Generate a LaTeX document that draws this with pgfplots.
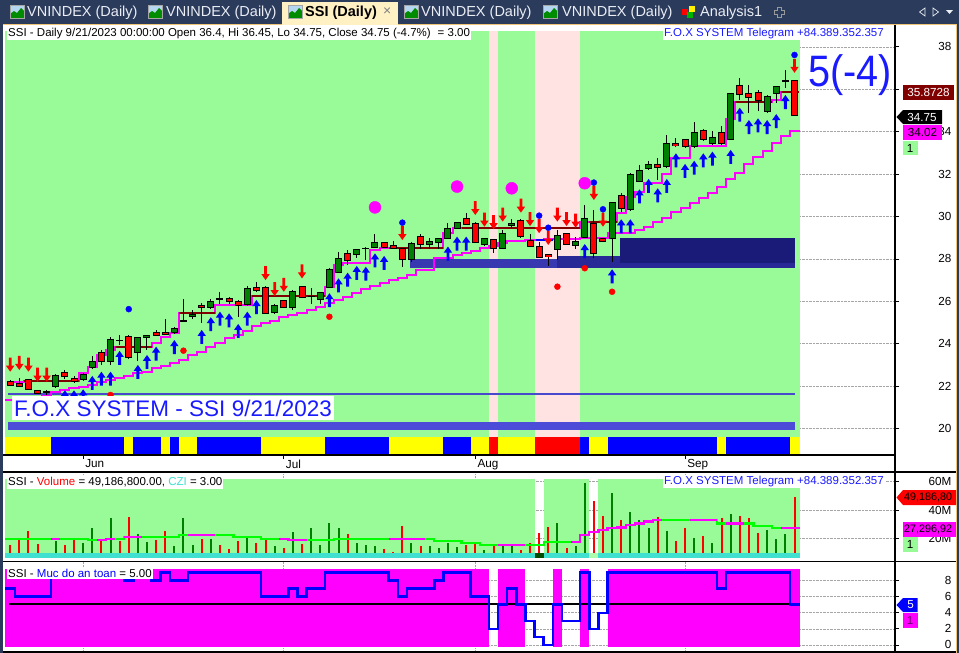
\documentclass[border=0pt]{standalone}
\usepackage{graphicx}
\usepackage{pgfplots}
\pgfplotsset{compat=1.18}
\usepackage{pgfplotstable}
\usepackage{fontspec}
\setmainfont{Liberation Sans}
\newcommand\fs[1]{\fontsize{#1}{#1}\selectfont}
\definecolor{bg}{RGB}{152,251,152}
\definecolor{pinkbg}{RGB}{255,226,226}
\definecolor{navyA}{RGB}{56,56,176}
\definecolor{navyB}{RGB}{40,40,150}
\definecolor{navyC}{RGB}{26,26,120}
\definecolor{lineblue}{RGB}{72,72,204}
\definecolor{bandblue}{RGB}{76,76,216}
\definecolor{maroonc}{RGB}{128,0,0}
\definecolor{cgreen}{RGB}{0,128,0}
\definecolor{vgreen}{RGB}{0,255,0}
\definecolor{czi}{RGB}{64,224,208}
\definecolor{frame}{RGB}{43,59,92}
\definecolor{tabact}{RGB}{255,241,196}
\definecolor{orangeb}{RGB}{240,196,120}
\definecolor{txtblue}{RGB}{26,26,255}
\definecolor{sky}{RGB}{180,214,240}
\definecolor{tabtxt}{RGB}{235,238,245}
\definecolor{darkmag}{RGB}{110,0,110}
\definecolor{mag}{RGB}{255,0,255}
\definecolor{yel}{RGB}{255,255,0}
\definecolor{blu}{RGB}{0,0,255}
\definecolor{rd}{RGB}{255,0,0}

\pgfdeclareplotmark{uarr}{%
 \pgfpathmoveto{\pgfqpoint{0pt}{0pt}}%
 \pgfpathlineto{\pgfqpoint{4.2pt}{-6pt}}%
 \pgfpathlineto{\pgfqpoint{1.4pt}{-6pt}}%
 \pgfpathlineto{\pgfqpoint{1.4pt}{-14pt}}%
 \pgfpathlineto{\pgfqpoint{-1.4pt}{-14pt}}%
 \pgfpathlineto{\pgfqpoint{-1.4pt}{-6pt}}%
 \pgfpathlineto{\pgfqpoint{-4.2pt}{-6pt}}%
 \pgfpathclose\pgfusepath{fill}}
\pgfdeclareplotmark{darr}{%
 \pgfpathmoveto{\pgfqpoint{0pt}{0pt}}%
 \pgfpathlineto{\pgfqpoint{4.2pt}{6pt}}%
 \pgfpathlineto{\pgfqpoint{1.4pt}{6pt}}%
 \pgfpathlineto{\pgfqpoint{1.4pt}{14pt}}%
 \pgfpathlineto{\pgfqpoint{-1.4pt}{14pt}}%
 \pgfpathlineto{\pgfqpoint{-1.4pt}{6pt}}%
 \pgfpathlineto{\pgfqpoint{-4.2pt}{6pt}}%
 \pgfpathclose\pgfusepath{fill}}

\pgfplotstableread{
i o h l c vol vc
0 22.24 22.30 22.00 22.05 15.6 0
1 22.13 22.37 21.95 21.97 20.3 0
2 22.29 22.32 21.80 21.82 25.6 0
3 21.78 21.82 21.62 21.66 16.3 0
4 21.74 21.82 21.60 21.74 8.6 0
5 21.97 22.55 21.90 22.52 18.4 1
6 22.63 22.76 22.35 22.44 15.6 0
7 22.37 22.50 22.15 22.24 19.1 0
8 22.29 22.62 22.25 22.57 16.8 1
9 22.87 23.42 22.85 23.18 27.2 1
10 23.58 23.70 23.00 23.15 19.6 0
11 23.15 24.33 23.00 24.22 34.2 1
12 24.17 24.40 23.95 24.17 18.4 0
13 24.36 24.40 23.30 23.34 34.9 0
14 23.58 24.33 23.20 24.30 23.3 1
15 24.28 24.43 23.70 24.41 17.9 1
16 24.54 24.66 24.35 24.38 19.1 0
17 24.54 25.17 24.42 24.44 25.6 0
18 24.52 24.80 24.50 24.73 14.9 1
19 25.09 26.11 25.05 25.09 34.2 1
20 25.27 25.60 25.15 25.40 15.6 1
21 25.82 25.93 24.99 25.72 19.6 0
22 25.70 26.13 25.65 26.01 19.6 1
23 26.12 26.42 25.85 26.12 15.6 0
24 26.11 26.22 25.85 25.98 12.8 0
25 26.00 26.05 25.27 25.81 18.4 0
26 25.86 26.72 25.80 26.61 21.4 1
27 26.63 26.89 26.45 26.50 16.9 0
28 26.66 26.70 25.40 25.43 20.3 0
29 25.46 25.85 25.40 25.82 14.9 1
30 26.05 26.08 25.70 25.72 13.3 0
31 25.72 26.52 25.60 26.48 24.7 1
32 26.71 26.74 26.15 26.19 16.3 0
33 26.25 26.64 25.85 26.25 27.2 1
34 26.09 26.46 25.85 26.42 15.6 1
35 26.66 27.58 26.62 27.52 30.7 1
36 27.37 28.31 27.33 28.03 27.2 1
37 28.27 28.44 27.72 27.92 23.1 0
38 28.22 28.46 28.05 28.42 16.8 1
39 28.51 28.54 27.95 28.51 15.6 1
40 28.55 29.17 28.52 28.78 14.9 1
41 28.78 28.82 28.50 28.53 12.8 0
42 28.61 28.83 28.47 28.50 10.5 0
43 28.50 28.53 27.63 27.98 28.9 0
44 27.95 28.78 27.87 28.74 16.8 1
45 29.07 29.18 28.45 28.69 14.9 0
46 28.69 29.00 28.45 28.80 14.9 1
47 28.78 29.00 28.45 28.97 13.3 1
48 28.97 29.68 28.94 29.44 16.8 1
49 29.44 29.76 29.40 29.73 14.2 1
50 29.92 30.15 29.60 29.63 15.6 0
51 29.68 29.72 28.75 28.78 16.8 0
52 28.67 29.00 28.63 28.97 12.1 1
53 28.92 28.95 28.30 28.50 15.6 0
54 28.50 29.38 28.46 29.21 15.6 1
55 29.57 29.88 29.45 29.68 15.6 1
56 29.82 29.86 29.00 29.05 12.1 0
57 28.89 29.16 28.55 28.59 16.8 0
58 28.59 28.81 28.03 28.07 23.8 0
59 28.21 28.24 27.68 28.10 27.9 0
60 28.45 29.34 27.97 29.12 30.7 1
61 29.21 29.24 28.65 28.69 13.3 0
62 28.64 29.05 28.45 28.83 14.9 1
63 29.02 30.54 28.98 29.92 58.6 1
64 29.68 30.33 28.02 28.26 46.3 0
65 28.97 29.00 28.78 28.81 35.8 0
66 28.97 30.70 27.87 30.65 52.1 1
67 31.01 31.11 30.20 30.39 33.0 0
68 30.31 32.03 30.27 31.99 38.8 1
69 31.67 32.43 31.63 32.19 33.0 1
70 32.27 32.62 32.20 32.43 27.7 1
71 32.46 32.78 31.72 32.30 34.9 0
72 32.35 33.84 32.30 33.45 25.4 1
73 33.45 33.70 33.30 33.34 18.4 0
74 33.61 33.64 33.25 33.29 27.7 0
75 33.29 34.47 33.25 33.97 20.7 1
76 34.08 34.12 33.56 33.64 21.9 0
77 33.42 34.04 33.38 33.74 17.2 1
78 33.97 34.28 33.38 33.42 34.6 0
79 33.64 35.82 33.60 35.78 37.2 1
80 36.16 36.55 35.50 35.76 35.8 0
81 35.78 36.20 34.90 35.62 34.6 0
82 35.86 35.97 34.99 35.46 23.8 0
83 34.94 35.72 34.90 35.68 26.1 1
84 35.78 36.16 35.34 36.12 19.8 1
85 36.40 36.91 36.05 36.40 23.3 1
86 36.40 36.45 34.75 34.75 49.3 0
}\candles

\pgfplotstableread{
i v
6 21.80
7 21.80
8 21.85
9 22.48
10 22.68
11 22.68
12 23.66
14 23.00
15 23.47
16 23.86
18 24.17
21 24.65
22 25.25
23 25.51
24 25.43
25 24.93
26 25.51
27 26.06
35 26.38
36 27.08
37 27.35
38 27.67
39 27.63
40 28.26
41 28.14
48 28.58
49 29.05
50 29.05
63 28.70
66 27.51
67 29.87
68 29.87
69 31.28
70 31.77
71 31.33
72 31.77
73 32.98
74 32.48
75 32.63
76 32.98
77 33.06
79 33.14
80 35.13
81 34.55
82 34.63
83 34.55
84 34.83
85 35.73
}\buys

\pgfplotstableread{
i v
0 22.68
1 22.76
2 22.68
3 22.21
4 22.21
28 27.00
29 26.25
30 26.45
32 27.08
43 28.89
51 30.07
52 29.52
53 29.40
54 29.76
56 30.18
57 29.55
58 29.21
59 28.66
60 29.76
61 29.55
62 29.47
64 30.78
65 29.52
86 36.78
}\sells

\begin{document}
\begin{tikzpicture}
%---------------- background / window chrome
\begin{scope}[x=1pt,y=-1pt]
\fill[frame] (0,0) rectangle (959,653);
\fill[white] (3,25) rectangle (956,653);
\draw[orangeb, line width=1pt] (3,24.5) -- (956.5,24.5) -- (956.5,653);
\fill[tabact] (282,2) rectangle (398,25);
\foreach \xx in {10,148,288,404,543}{
  \fill[sky] (\xx,5) rectangle ++(14,13);
  \fill[green!55!black] (\xx,18) -- ++(0,-4) -- ++(4,-3) -- ++(3,2) -- ++(4,-5) -- ++(3,3) -- ++(0,7) -- cycle;
  \draw[gray!70, line width=0.6pt] (\xx,5) rectangle ++(14,13);
}
\node[anchor=west, inner sep=0pt, text=tabtxt, font=\fs{14.5}] at (27,12.5) {VNINDEX (Daily)};
\node[anchor=west, inner sep=0pt, text=tabtxt, font=\fs{14.5}] at (166,12.5) {VNINDEX (Daily)};
\node[anchor=west, inner sep=0pt, text=black, font=\fs{14.5}\bfseries] at (305,12.5) {SSI (Daily)};
\node[anchor=west, inner sep=0pt, text=gray, font=\fs{14}] at (383,12) {×};
\node[anchor=west, inner sep=0pt, text=tabtxt, font=\fs{14.5}] at (421,12.5) {VNINDEX (Daily)};
\node[anchor=west, inner sep=0pt, text=tabtxt, font=\fs{14.5}] at (562,12.5) {VNINDEX (Daily)};
\fill[rd] (682,9) rectangle (688,15);
\fill[green!70!black] (687,12) rectangle (693,18);
\fill[yel!90!orange] (689,6) rectangle (695,12);
\node[anchor=west, inner sep=0pt, text=tabtxt, font=\fs{14.5}] at (700,12.5) {Analysis1};
\draw[gray!80, line width=0.8pt] (777,7) -- (781,7) -- (781,10) -- (784,10) -- (784,14) -- (781,14) -- (781,17) -- (777,17) -- (777,14) -- (774,14) -- (774,10) -- (777,10) -- cycle;
\draw[tabtxt, line width=0.7pt] (925,8) -- (919.5,12) -- (925,16) -- cycle;
\draw[tabtxt, line width=0.7pt] (933,8) -- (938.5,12) -- (933,16) -- cycle;
\fill[tabtxt] (946,10) -- (953,10) -- (949.5,14) -- cycle;
\end{scope}

%---------------- main price panel
\begin{axis}[at={(5pt,-455pt)}, anchor=south west, scale only axis,
  width=890pt, height=431pt,
  xmin=-0.57, xmax=97.02, ymin=18.75, ymax=39.08,
  axis line style={draw=none},
  ytick={20,22,24,26,28,30,32,34,36,38},
  yticklabels={20,22,24,26,28,30,32,34,{},38},
  ytick pos=right, yticklabel pos=right,
  tick align=outside, major tick length=4pt,
  tick style={black, line width=0.8pt},
  yticklabel style={font=\fs{11.7}, anchor=east, inner sep=0pt, xshift=52.5pt},
  xtick={8,30,51,74}, xticklabels={Jun,Jul,Aug,Sep}, xtick pos=bottom,
  xticklabel style={font=\fs{11.7}, anchor=north west, inner sep=0pt, xshift=2pt, yshift=-0.5pt},
  ymajorgrids, grid style={densely dotted, black!35, line width=0.7pt},
]
\fill[bg] (axis cs:-0.57,19.6) rectangle (axis cs:86.6,38.75);
\fill[pinkbg] (axis cs:52.5,19.6) rectangle (axis cs:53.5,38.75);
\fill[pinkbg] (axis cs:57.5,19.6) rectangle (axis cs:62.5,38.75);
% status strip
\fill[yel] (axis cs:-0.6,18.7) rectangle (axis cs:4.5,19.6);
\fill[blu] (axis cs:4.5,18.7) rectangle (axis cs:12.5,19.6);
\fill[yel] (axis cs:12.5,18.7) rectangle (axis cs:13.5,19.6);
\fill[blu] (axis cs:13.5,18.7) rectangle (axis cs:16.5,19.6);
\fill[yel] (axis cs:16.5,18.7) rectangle (axis cs:17.5,19.6);
\fill[blu] (axis cs:17.5,18.7) rectangle (axis cs:18.5,19.6);
\fill[yel] (axis cs:18.5,18.7) rectangle (axis cs:20.5,19.6);
\fill[blu] (axis cs:20.5,18.7) rectangle (axis cs:27.5,19.6);
\fill[yel] (axis cs:27.5,18.7) rectangle (axis cs:34.5,19.6);
\fill[blu] (axis cs:34.5,18.7) rectangle (axis cs:41.5,19.6);
\fill[yel] (axis cs:41.5,18.7) rectangle (axis cs:47.5,19.6);
\fill[blu] (axis cs:47.5,18.7) rectangle (axis cs:50.5,19.6);
\fill[yel] (axis cs:50.5,18.7) rectangle (axis cs:52.5,19.6);
\fill[rd] (axis cs:52.5,18.7) rectangle (axis cs:53.5,19.6);
\fill[yel] (axis cs:53.5,18.7) rectangle (axis cs:57.5,19.6);
\fill[rd] (axis cs:57.5,18.7) rectangle (axis cs:62.5,19.6);
\fill[blu] (axis cs:62.5,18.7) rectangle (axis cs:63.5,19.6);
\fill[yel] (axis cs:63.5,18.7) rectangle (axis cs:65.5,19.6);
\fill[blu] (axis cs:65.5,18.7) rectangle (axis cs:77.5,19.6);
\fill[yel] (axis cs:77.5,18.7) rectangle (axis cs:78.5,19.6);
\fill[blu] (axis cs:78.5,18.7) rectangle (axis cs:85.5,19.6);
\fill[yel] (axis cs:85.5,18.7) rectangle (axis cs:86.6,19.6);
% red dots
\addplot[only marks, mark=*, mark size=3pt, rd] coordinates {(11,21.58) (19,23.67) (35,25.27) (60,26.69) (63,27.56) (66,26.45)};
% zones
\fill[navyA] (axis cs:43.8,27.58) rectangle (axis cs:86.05,28.0);
\fill[navyB] (axis cs:60.0,27.58) rectangle (axis cs:86.05,28.14);
\fill[navyC] (axis cs:66.9,27.82) rectangle (axis cs:86.05,28.99);
\draw[lineblue, line width=2pt] (axis cs:-0.24,21.65) -- (axis cs:86.05,21.65);
\fill[bandblue] (axis cs:-0.24,19.93) rectangle (axis cs:86.05,20.32);
% lower trailing line
\addplot[mag, line width=2pt, const plot mark mid] coordinates {(-0.57,21.34) (0,21.34) (1,21.34) (2,21.40) (3,21.45) (4,21.55) (5,21.74) (6,21.80) (7,21.90) (8,21.95) (9,22.05) (10,22.21) (11,22.30) (12,22.37) (13,22.50) (14,22.60) (15,22.68) (16,22.85) (17,22.95) (18,23.10) (19,23.22) (20,23.45) (21,23.62) (22,23.85) (23,24.05) (24,24.25) (25,24.40) (26,24.61) (27,24.85) (28,24.97) (29,25.09) (30,25.25) (31,25.37) (32,25.47) (33,25.59) (34,25.75) (35,25.91) (36,26.05) (37,26.22) (38,26.40) (39,26.56) (40,26.74) (41,26.88) (42,27.00) (43,27.10) (44,27.23) (45,27.48) (46,27.48) (47,28.03) (48,28.03) (49,28.18) (50,28.26) (51,28.38) (52,28.50) (53,28.62) (54,28.74) (55,28.84) (56,28.84) (57,28.88) (58,28.88) (59,28.92) (60,28.92) (61,28.92) (62,28.92) (63,28.97) (64,28.97) (65,28.97) (66,29.21) (67,29.21) (68,29.21) (69,29.37) (70,29.52) (71,29.72) (72,29.92) (73,30.20) (74,30.39) (75,30.62) (76,30.86) (77,31.10) (78,31.41) (79,31.76) (80,32.07) (81,32.48) (82,32.79) (83,33.10) (84,33.45) (85,33.82) (86,34.02) (86.6,34.02)};
\addplot[blu, line width=2pt] coordinates {(57.6,28.88) (59.5,28.88)};
% upper trailing line
\addplot[mag, line width=2pt, const plot mark mid] coordinates {(-0.4,22.21) (0,22.21) (1,22.21) (2,22.25) (3,22.25) (4,22.25) (5,22.25) (6,22.25) (7,22.25) (8,22.62) (9,22.92) (10,23.47) (11,23.70) (12,23.86) (13,23.86) (14,23.86) (15,23.86) (16,24.02) (17,24.30) (18,24.49) (19,25.46) (20,25.46) (21,25.46) (22,25.46) (23,25.82) (24,25.82) (25,25.82) (26,25.82) (27,26.25) (28,26.25) (29,26.25) (30,26.25) (31,26.25) (32,26.25) (33,26.25) (34,26.25) (35,26.69) (36,27.71) (37,27.82) (38,27.82) (39,27.82) (40,28.42) (41,28.53) (42,28.53) (43,28.53) (44,28.53) (45,28.53) (46,28.53) (47,28.53) (48,29.21) (49,29.44) (50,29.47) (51,29.47) (52,29.47) (53,29.47) (54,29.47) (55,29.47) (56,29.47) (57,29.47) (58,29.47) (59,29.47) (60,29.47) (61,29.47) (62,29.47) (63,29.72) (64,29.76) (65,29.76) (66,29.76) (67,30.15) (68,30.93) (69,31.17) (70,31.57) (71,31.57) (72,32.00) (73,32.75) (74,32.75) (75,33.33) (76,33.33) (77,33.33) (78,33.33) (79,34.60) (80,35.42) (81,35.42) (82,35.42) (83,35.42) (84,35.50) (85,35.87) (86,35.87) (86.5,35.87)};
\addplot[maroonc, line width=2pt] coordinates {(1.5,22.25) (7.5,22.25)};
\addplot[maroonc, line width=2pt] coordinates {(11.5,23.86) (15.5,23.86)};
\addplot[maroonc, line width=2pt] coordinates {(18.5,25.46) (22.5,25.46)};
\addplot[maroonc, line width=2pt] coordinates {(26.5,26.25) (34.5,26.25)};
\addplot[maroonc, line width=2pt] coordinates {(41.5,28.53) (47.5,28.53)};
\addplot[maroonc, line width=2pt] coordinates {(49.5,29.47) (62.5,29.47)};
\addplot[maroonc, line width=2pt] coordinates {(63.5,29.76) (66.5,29.76)};
\addplot[maroonc, line width=2pt] coordinates {(79.5,35.42) (83.5,35.42)};
\addplot[maroonc, line width=2pt] coordinates {(84.5,35.87) (86.5,35.87)};
% candles: wicks
\addplot[draw=none, mark=none, error bars/.cd, y dir=both, y explicit, error mark=none,
  error bar style={draw=black, line width=1pt}]
  table[x=i, y=o, y error plus expr={\thisrow{h}-\thisrow{o}}, y error minus expr={\thisrow{o}-\thisrow{l}}] {\candles};
% bodies outline
\addplot[draw=none, mark=none, error bars/.cd, y dir=both, y explicit, error mark=none,
  error bar style={draw=black, line width=7pt}]
  table[x=i, y expr={(\thisrow{o}+\thisrow{c})/2}, y error expr={abs(\thisrow{c}-\thisrow{o})/2+0.0236}] {\candles};
% bodies fill
\addplot[draw=none, mark=none, restrict expr to domain={\thisrow{c}-\thisrow{o}}{0.01:100},
  error bars/.cd, y dir=both, y explicit, error mark=none,
  error bar style={draw=cgreen, line width=5pt}]
  table[x=i, y expr={(\thisrow{o}+\thisrow{c})/2}, y error expr={abs(\thisrow{c}-\thisrow{o})/2-0.0236}] {\candles};
\addplot[draw=none, mark=none, restrict expr to domain={\thisrow{c}-\thisrow{o}}{-100:-0.01},
  error bars/.cd, y dir=both, y explicit, error mark=none,
  error bar style={draw=rd, line width=5pt}]
  table[x=i, y expr={(\thisrow{o}+\thisrow{c})/2}, y error expr={abs(\thisrow{c}-\thisrow{o})/2-0.0236}] {\candles};
% signals
\addplot[only marks, mark=uarr, blu] table[x=i, y=v] {\buys};
\addplot[only marks, mark=darr, rd] table[x=i, y=v] {\sells};
\addplot[only marks, mark=*, mark size=3pt, blu] coordinates {(13,25.63) (43,29.71) (58,30.04) (59,29.47) (64,31.6) (65,30.34) (86,37.62)};
\addplot[only marks, mark=*, mark size=6pt, mag, mark options={draw=none}] coordinates {(40,30.43) (49,31.41) (55,31.33) (63,31.57)};
\end{axis}

%---------------- volume panel
\begin{axis}[at={(5pt,-558pt)}, anchor=south west, scale only axis,
  width=890pt, height=86pt,
  xmin=-0.57, xmax=97.02, ymin=6.55, ymax=66.48,
  axis line style={draw=none},
  ytick={20,40,60}, yticklabels={20M,40M,60M},
  ytick pos=right, yticklabel pos=right,
  tick align=outside, major tick length=4pt,
  tick style={black, line width=0.8pt},
  yticklabel style={font=\fs{11.7}, anchor=east, inner sep=0pt, xshift=52.5pt},
  xtick=\empty,
  ymajorgrids, grid style={densely dotted, black!35, line width=0.7pt},
]
\draw[densely dotted, black!35, line width=0.7pt] (axis cs:8,6.55) -- (axis cs:8,66.48);
\draw[densely dotted, black!35, line width=0.7pt] (axis cs:30,6.55) -- (axis cs:30,66.48);
\draw[densely dotted, black!35, line width=0.7pt] (axis cs:51,6.55) -- (axis cs:51,66.48);
\draw[densely dotted, black!35, line width=0.7pt] (axis cs:74,6.55) -- (axis cs:74,66.48);
\fill[bg] (axis cs:-0.57,10.03) rectangle (axis cs:57.5,61.6);
\fill[bg] (axis cs:58.5,10.03) rectangle (axis cs:63.5,61.6);
\fill[bg] (axis cs:64.5,10.03) rectangle (axis cs:86.6,61.6);
\addplot[ycomb, cgreen, line width=2pt, mark=none, restrict expr to domain={\thisrow{vc}}{0.5:1.5}] table[x=i, y=vol] {\candles};
\addplot[ycomb, rd, line width=2pt, mark=none, restrict expr to domain={\thisrow{vc}}{-0.5:0.5}] table[x=i, y=vol] {\candles};
\addplot[vgreen, line width=2.3pt, const plot mark mid] coordinates {(-0.57,19.6) (0,19.6) (3,19.6) (4,20.0) (8,20.0) (9,19.1) (10,19.1) (11,20.0) (12,20.0) (13,21.0) (14,21.0) (15,21.4) (18,21.4) (19,22.6) (24,22.6) (25,21.4) (27,21.4) (28,19.8) (30,19.8) (31,19.1) (35,19.1) (36,19.8) (41,19.8) (42,19.6) (46,19.6) (47,18.4) (49,18.4) (50,16.8) (51,16.8) (52,15.6) (58,15.6) (59,17.9) (62,17.9) (63,22.6) (64,24.9) (65,26.0) (66,27.3) (67,27.9) (68,29.5) (69,30.7) (70,31.9) (71,33.0) (77,33.0) (78,30.7) (81,30.7) (82,28.9) (83,28.9) (84,27.3) (86,27.3) (86.6,27.3)};
\addplot[mag, line width=2.3pt, const plot] coordinates {(4.5,20.0) (5.5,20.0)};
\addplot[mag, line width=2.3pt, const plot] coordinates {(9.5,19.1) (10.5,20.0) (11.5,20.0)};
\addplot[mag, line width=2.3pt, const plot] coordinates {(12.5,21.0) (14.5,21.0)};
\addplot[mag, line width=2.3pt, const plot] coordinates {(19.5,22.6) (22.5,22.6)};
\addplot[mag, line width=2.3pt, const plot] coordinates {(29.5,19.8) (30.5,19.1) (32.5,19.1)};
\addplot[mag, line width=2.3pt, const plot] coordinates {(41.5,19.6) (45.5,19.6)};
\addplot[mag, line width=2.3pt, const plot] coordinates {(53.5,15.6) (56.5,15.6)};
\addplot[mag, line width=2.3pt, const plot] coordinates {(61.5,17.9) (62.5,22.6) (63.5,24.9) (64.5,26.0) (65.5,27.3) (66.5,27.9) (67.5,29.5) (68.5,30.7) (69.5,31.9) (70.5,33.0) (71.5,33.0)};
\addplot[mag, line width=2.3pt, const plot] coordinates {(74.5,33.0) (77.5,33.0)};
\addplot[mag, line width=2.3pt, const plot] coordinates {(78.5,30.7) (80.5,30.7)};
\addplot[mag, line width=2.3pt, const plot] coordinates {(84.5,27.3) (86.6,27.3)};
\fill[czi] (axis cs:-0.57,6.9) rectangle (axis cs:86.6,10.03);
\fill[green!30!black] (axis cs:57.5,6.9) rectangle (axis cs:58.5,10.03);
\fill[bg!80!white] (axis cs:63.5,6.9) rectangle (axis cs:64.5,10.03);
\end{axis}

%---------------- safety level panel
\begin{axis}[at={(5pt,-652pt)}, anchor=south west, scale only axis,
  width=890pt, height=90.5pt,
  xmin=-0.57, xmax=97.02, ymin=-0.875, ymax=10.375,
  axis line style={draw=none},
  ytick={0,2,4,6,8}, yticklabels={0,2,4,6,8},
  ytick pos=right, yticklabel pos=right,
  tick align=outside, major tick length=4pt,
  tick style={black, line width=0.8pt},
  yticklabel style={font=\fs{11.7}, anchor=east, inner sep=0pt, xshift=52.5pt},
  xtick=\empty,
  ymajorgrids, grid style={densely dotted, black!35, line width=0.7pt},
]
\draw[densely dotted, black!35, line width=0.7pt] (axis cs:8,-0.875) -- (axis cs:8,10.375);
\draw[densely dotted, black!35, line width=0.7pt] (axis cs:30,-0.875) -- (axis cs:30,10.375);
\draw[densely dotted, black!35, line width=0.7pt] (axis cs:51,-0.875) -- (axis cs:51,10.375);
\draw[densely dotted, black!35, line width=0.7pt] (axis cs:74,-0.875) -- (axis cs:74,10.375);
\fill[mag] (axis cs:-0.57,-0.21) rectangle (axis cs:52.5,9.5);
\fill[mag] (axis cs:53.5,-0.21) rectangle (axis cs:56.5,9.5);
\fill[mag] (axis cs:59.5,-0.21) rectangle (axis cs:60.5,9.5);
\fill[mag] (axis cs:62.5,-0.21) rectangle (axis cs:63.5,9.5);
\fill[mag] (axis cs:65.5,-0.21) rectangle (axis cs:86.6,9.5);
\draw[black, line width=2pt] (axis cs:-0.13,5.09) -- (axis cs:86.6,5.09);
\addplot[blu, line width=2.5pt, const plot] coordinates {(-0.57,7) (0.5,6) (4.5,9) (12.5,8) (13.5,9) (15.5,8) (16.5,9) (17.5,8) (19.5,9) (27.5,6) (30.5,7) (31.5,6) (32.5,7) (34.5,9) (41.5,8) (42.5,6) (43.5,7) (46.5,8) (47.5,9) (50.5,6) (52.5,2) (53.5,5) (54.5,7) (55.5,5) (56.5,3) (57.5,1) (58.5,0) (59.5,5) (60.5,3) (62.5,9) (63.5,2) (64.5,4) (65.5,9) (77.5,7) (78.5,9) (85.5,5) (86.6,5)};
\end{axis}

%---------------- overlays: frame lines, texts, value boxes
\begin{scope}[x=1pt,y=-1pt]
\draw[black, line width=1.2pt] (895,24.5) -- (895,652);
\draw[black, line width=1.2pt] (3,455) -- (895,455);
\draw[black, line width=1.2pt] (3,472) -- (956,472);
\draw[black, line width=1.2pt] (3,561.5) -- (956,561.5);
\draw[black, line width=1.2pt] (3,652) -- (956,652);
% headers
\node[anchor=west, fill=white, inner xsep=1pt, inner ysep=1.5pt, font=\fs{11.5}] at (7,33.5)
  {SSI - Daily 9/21/2023 00:00:00 Open 36.4, Hi 36.45, Lo 34.75, Close 34.75 (-4.7\%)\hspace{7pt}= 3.00};
\node[anchor=east, fill=white, inner xsep=1pt, inner ysep=1.5pt, text=txtblue, font=\fs{11.5}] at (885,33.5)
  {F.O.X SYSTEM Telegram +84.389.352.357};
\node[anchor=base west, inner sep=0pt, text=txtblue, font=\fs{44}] at (808,86.5) {\scalebox{0.9}[1]{5(-4)}};
\node[anchor=west, fill=white, inner xsep=2pt, inner ysep=0pt, minimum height=24pt, text=txtblue, font=\fs{22.5}] at (12,408)
  {F.O.X SYSTEM - SSI 9/21/2023};
\node[anchor=west, fill=white, inner xsep=1pt, inner ysep=1.5pt, font=\fs{11.5}] at (7,482.5)
  {SSI - \textcolor{rd}{Volume} = 49,186,800.00, \textcolor{czi}{CZI} = 3.00};
\node[anchor=east, fill=white, inner xsep=1pt, inner ysep=1.5pt, text=txtblue, font=\fs{11.5}] at (885,481.5)
  {F.O.X SYSTEM Telegram +84.389.352.357};
\node[anchor=west, fill=white, inner xsep=1pt, inner ysep=1.5pt, font=\fs{11.5}] at (7,573.5)
  {SSI - \textcolor{blu}{Muc do an toan} = 5.00};
% value boxes main
\fill[maroonc] (903,85) rectangle (954,100);
\node[text=white, font=\fs{11.7}, inner sep=0pt] at (928.5,92.5) {35.8728};
\fill[black] (896.5,117) -- (903,110) -- (942,110) -- (942,124) -- (903,124) -- cycle;
\node[text=white, font=\fs{11.7}, inner sep=0pt] at (922,117) {34.75};
\fill[mag] (903,125) rectangle (942,139.5);
\node[text=black, font=\fs{11.7}, inner sep=0pt] at (922.5,132.3) {34.02};
\fill[bg] (903,141) rectangle (917.5,155);
\node[text=black, font=\fs{11.7}, inner sep=0pt] at (910.2,148) {1};
% value boxes volume
\fill[rd] (896.5,497.5) -- (903,490) -- (956,490) -- (956,505) -- (903,505) -- cycle;
\node[anchor=west, text=black, font=\fs{10.8}, inner sep=0pt] at (904,497.5) {49,186,80};
\fill[mag] (903,522) rectangle (956,536.5);
\node[anchor=west, text=black, font=\fs{10.8}, inner sep=0pt] at (904,529.3) {27,296,92};
\fill[bg] (903,537) rectangle (917.5,551.5);
\node[text=black, font=\fs{11.7}, inner sep=0pt] at (910.2,544.3) {1};
% value boxes safety
\fill[blu] (896.5,605) -- (903,598) -- (917.5,598) -- (917.5,612) -- (903,612) -- cycle;
\node[text=white, font=\fs{11.7}, inner sep=0pt] at (910.5,605) {5};
\fill[mag] (903,612.5) rectangle (917.5,627.5);
\node[text=darkmag, font=\fs{11.7}, inner sep=0pt] at (910.2,620) {1};
\end{scope}
\pgfresetboundingbox
\path[use as bounding box] (0pt,0pt) rectangle (959pt,-653pt);
\end{tikzpicture}
\end{document}
